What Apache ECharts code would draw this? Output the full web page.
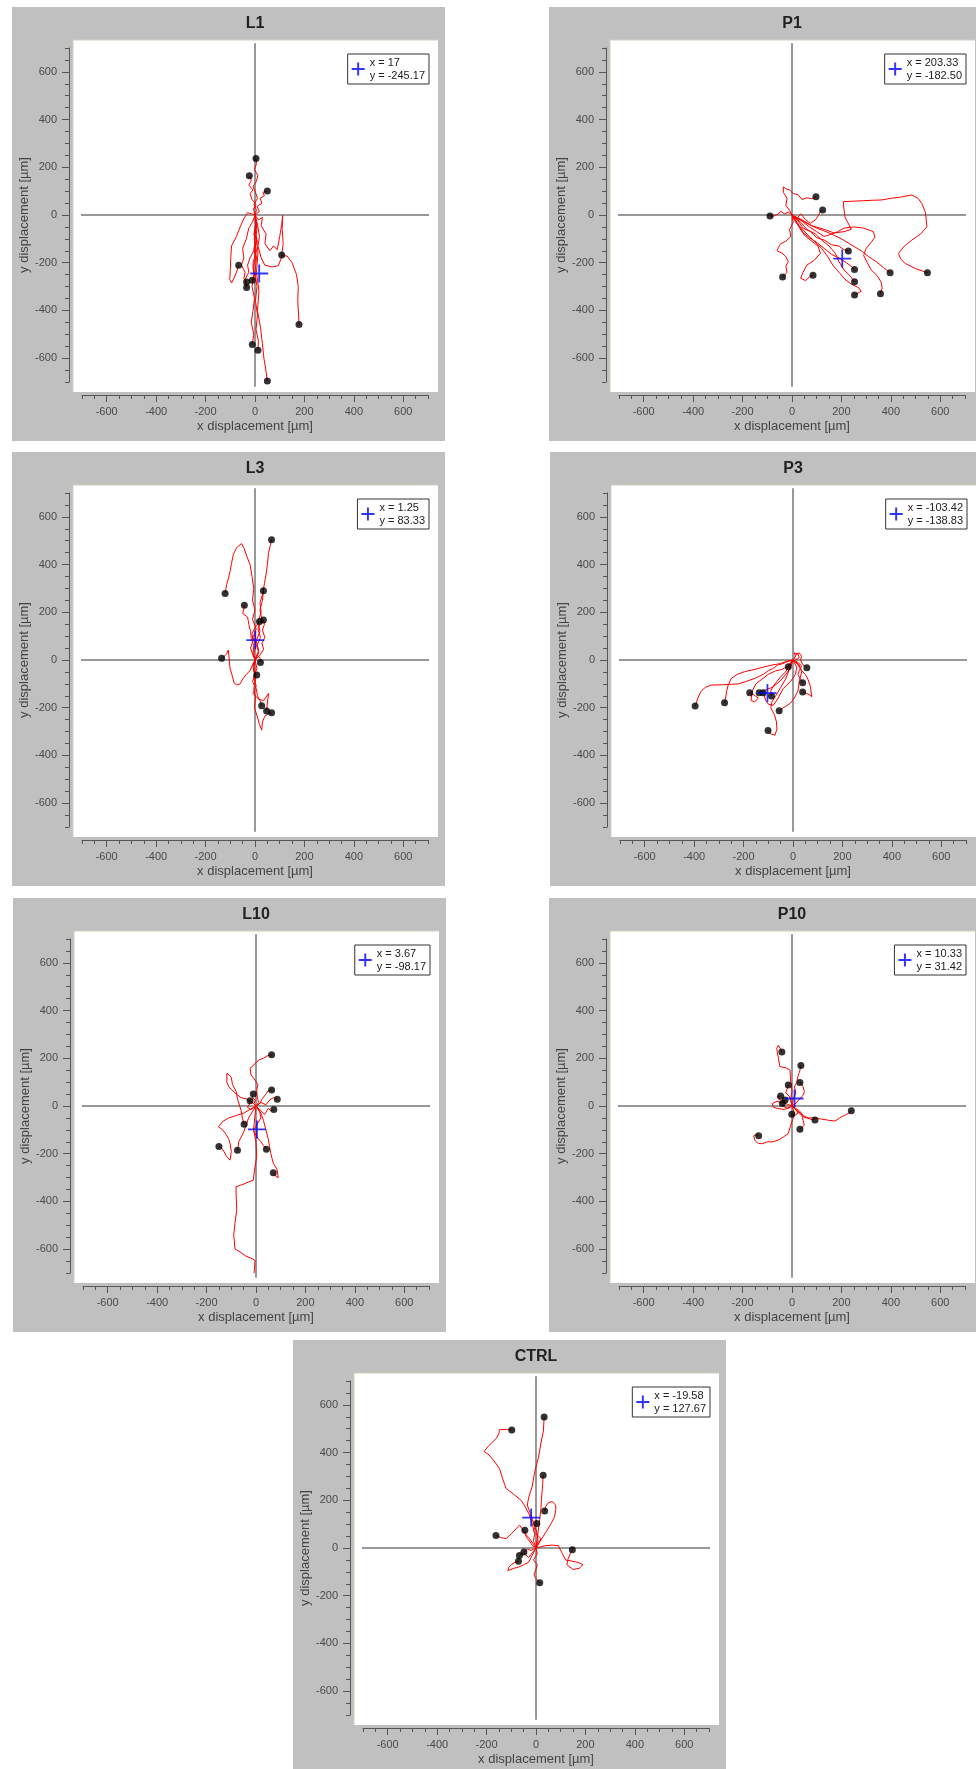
<!DOCTYPE html>
<html><head><meta charset="utf-8">
<script src="https://cdn.jsdelivr.net/npm/echarts@6/dist/echarts.min.js"></script>
<style>html,body{margin:0;padding:0;background:#fff}#chart{width:976px;height:1769px}</style>
</head><body><div id="chart"></div><script>
// ---------- data ----------
const PANEL_NAMES = ['L1','P1','L3','P3','L10','P10','CTRL'];
const CENTROID_X = ['17','203.33','1.25','-103.42','3.67','10.33','-19.58'];
const CENTROID_Y = ['-245.17','-182.50','83.33','-138.83','-98.17','31.42','127.67'];
const TICK_LABELS = [-600,-400,-200,0,200,400,600];
const AXIS_MIN = -700, AXIS_MAX = 700, MINOR_STEP = 50;
const CROSS_EXTENT = 720;
const X_NAME = 'x displacement [µm]';
const Y_NAME = 'y displacement [µm]';

const L1_TRACKS = [
 [[0,0],[6,20],[-4,45],[10,70],[2,95],[-8,120],[5,140],[12,165],[-2,190],[6,215],[4,237]],
 [[0,0],[-6,25],[4,45],[-12,65],[-20,90],[-8,105],[-25,125],[-15,145],[-23,164]],
 [[0,0],[18,15],[8,35],[28,50],[20,70],[38,80],[32,95],[50,101]],
 [[0,0],[15,-20],[30,-10],[25,-45],[45,-80],[40,-120],[60,-150],[75,-130],[90,-145],[100,-90],[108,-40],[112,-2],[110,-60],[114,-120],[108,-168]],
 [[0,0],[10,-40],[18,-90],[12,-130],[25,-180],[40,-210],[70,-218],[95,-212],[110,-170],[130,-172],[150,-200],[168,-250],[175,-300],[173,-360],[176,-410],[178,-459]],
 [[0,0],[-15,5],[-30,10],[-45,-15],[-60,-50],[-75,-90],[-95,-130],[-98,-180],[-100,-230],[-102,-270],[-95,-285],[-85,-265],[-75,-240],[-66,-211]],
 [[0,0],[-10,-30],[-25,-55],[-35,-100],[-50,-140],[-45,-180],[-55,-210],[-40,-240],[-45,-265],[-34,-281]],
 [[0,0],[8,-40],[-5,-80],[10,-110],[-5,-150],[-20,-180],[-30,-210],[-25,-240],[-40,-270],[-34,-304]],
 [[0,0],[5,-30],[-3,-70],[8,-100],[-5,-140],[3,-180],[-8,-220],[-2,-250],[-11,-273]],
 [[0,0],[5,-50],[-3,-100],[6,-150],[-8,-200],[-5,-250],[-12,-300],[-2,-350],[-8,-400],[-15,-450],[-5,-500],[-11,-543]],
 [[0,0],[8,-60],[-2,-120],[6,-180],[0,-240],[8,-300],[2,-360],[10,-420],[4,-480],[14,-530],[12,-567]],
 [[0,0],[4,-80],[12,-160],[6,-240],[16,-320],[10,-400],[22,-470],[30,-540],[36,-600],[44,-650],[50,-696]]
];
const P1_TRACKS = [
 [[0,0],[-15,12],[-30,5],[-45,15],[-60,2],[-75,-5],[-89,-4]],
 [[0,0],[5,-30],[-10,-60],[-5,-90],[-25,-110],[-45,-120],[-55,-135],[-60,-150],[-40,-160],[-25,-175],[-15,-195],[-25,-215],[-20,-240],[-38,-260]],
 [[0,0],[-10,20],[-25,40],[-20,70],[-35,95],[-35,118],[-25,110],[-10,105],[5,90],[25,85],[40,65],[60,72],[80,68],[97,76]],
 [[0,0],[20,-15],[35,5],[55,-20],[75,-35],[95,-20],[105,-5],[115,15],[124,21]],
 [[0,0],[15,-30],[35,-55],[50,-85],[80,-110],[105,-130],[115,-160],[90,-190],[60,-210],[45,-240],[35,-265],[55,-275],[70,-260],[85,-253]],
 [[0,0],[25,-25],[45,-55],[75,-70],[100,-95],[130,-105],[160,-125],[190,-130],[210,-145],[228,-151]],
 [[0,0],[20,-35],[40,-70],[70,-95],[100,-115],[130,-140],[160,-165],[190,-180],[220,-200],[240,-215],[253,-228]],
 [[0,0],[35,-30],[60,-60],[95,-80],[120,-105],[150,-130],[175,-160],[190,-195],[210,-230],[235,-255],[253,-280]],
 [[0,0],[30,-45],[60,-80],[90,-110],[120,-140],[145,-175],[165,-210],[190,-240],[215,-270],[240,-290],[270,-305],[280,-320],[253,-335]],
 [[0,0],[40,-25],[70,-50],[100,-70],[130,-90],[160,-80],[185,-70],[210,-55],[250,-50],[290,-55],[330,-70],[335,-95],[320,-115],[300,-140],[290,-170],[305,-200],[320,-230],[345,-255],[360,-280],[365,-305],[358,-330]],
 [[0,0],[50,-30],[100,-55],[150,-75],[200,-100],[240,-125],[280,-150],[310,-175],[340,-195],[370,-220],[397,-242]],
 [[0,0],[40,-20],[80,-45],[130,-60],[170,-75],[210,-70],[240,-60],[225,-30],[215,-10],[210,25],[208,56],[250,58],[290,60],[330,62],[363,63],[400,70],[440,75],[485,84],[510,70],[525,49],[540,10],[546,-49],[520,-80],[485,-105],[455,-130],[431,-161],[440,-185],[458,-203],[500,-225],[548,-242]]
];
const L3_TRACKS = [
 [[0,0],[15,40],[5,80],[20,120],[12,160],[25,200],[20,240],[32,280],[38,320],[45,360],[50,400],[55,450],[62,480],[67,504]],
 [[0,0],[-5,30],[5,60],[-8,95],[5,130],[-10,170],[0,210],[-10,250],[-5,300],[-12,350],[-20,400],[-35,440],[-45,470],[-55,488],[-63,493],[-75,470],[-88,441],[-95,405],[-101,371],[-108,340],[-115,315],[-121,279]],
 [[0,0],[15,30],[8,60],[22,95],[12,130],[28,170],[20,210],[30,250],[34,290]],
 [[0,0],[-8,25],[-5,60],[-15,90],[-18,120],[-25,150],[-30,180],[-50,195],[-45,215],[-43,230]],
 [[0,0],[20,20],[35,45],[28,70],[40,95],[30,125],[38,150],[34,168]],
 [[0,0],[-10,25],[-18,50],[-8,80],[-12,110],[0,135],[10,150],[18,161]],
 [[0,0],[-10,-20],[-20,-45],[-35,-60],[-50,-80],[-60,-100],[-74,-105],[-85,-95],[-90,-75],[-95,-55],[-101,-35],[-104,0],[-108,42],[-115,25],[-125,15],[-135,7]],
 [[0,0],[10,20],[20,8],[25,-5],[22,-11]],
 [[0,0],[-8,-20],[0,-35],[-5,-50],[7,-63]],
 [[0,0],[-8,-30],[0,-60],[-10,-90],[5,-120],[10,-150],[20,-170],[27,-192]],
 [[0,0],[8,-35],[-5,-70],[5,-110],[-8,-140],[15,-165],[35,-170],[55,-140],[50,-180],[47,-214]],
 [[0,0],[-5,-40],[3,-80],[-5,-120],[2,-160],[-2,-200],[10,-240],[18,-270],[27,-294],[30,-260],[40,-235],[55,-225],[67,-221]]
];
const P3_TRACKS = [
 [[0,0],[-20,-5],[-40,-15],[-60,-20],[-80,-35],[-100,-45],[-120,-60],[-150,-75],[-190,-90],[-220,-100],[-250,-102],[-290,-104],[-332,-105],[-355,-115],[-373,-132],[-385,-160],[-396,-193]],
 [[0,0],[-25,-5],[-50,-15],[-80,-20],[-114,-28],[-150,-38],[-196,-49],[-225,-60],[-250,-77],[-262,-105],[-269,-132],[-272,-155],[-277,-179]],
 [[0,0],[-20,-25],[-45,-40],[-70,-45],[-100,-60],[-125,-80],[-150,-100],[-165,-130],[-170,-170],[-155,-175],[-140,-160],[-160,-145],[-175,-137]],
 [[0,0],[-10,-30],[-25,-55],[-45,-80],[-65,-100],[-85,-115],[-110,-125],[-137,-137]],
 [[0,0],[15,-30],[10,-60],[-10,-90],[-40,-120],[-60,-160],[-80,-190],[-100,-185],[-110,-170],[-121,-137]],
 [[0,0],[-15,-25],[-30,-50],[-50,-70],[-65,-90],[-80,-110],[-90,-130],[-87,-151]],
 [[0,0],[25,-20],[35,-50],[25,-90],[20,-130],[5,-160],[-10,-180],[-30,-195],[-40,-200],[-56,-213]],
 [[0,0],[-15,-40],[-30,-80],[-50,-115],[-70,-150],[-85,-175],[-90,-200],[-75,-230],[-67,-259],[-65,-290],[-73,-315],[-90,-310],[-101,-295]],
 [[0,0],[10,15],[5,30],[20,25],[25,10],[10,0],[-5,-5],[-12,-15],[-19,-28]],
 [[0,0],[15,25],[25,30],[35,15],[30,0],[40,-20],[50,-25],[56,-32]],
 [[0,0],[20,-10],[35,-25],[25,-45],[20,-60],[30,-80],[39,-95]],
 [[0,0],[20,-20],[35,-45],[50,-60],[60,-80],[70,-110],[76,-154],[65,-145],[50,-138],[39,-134]]
];
const L10_TRACKS = [
 [[0,0],[10,15],[5,40],[3,67],[8,90],[-4,109],[-20,130],[-24,158],[-10,170],[-4,179],[15,195],[30,200],[45,210],[63,215]],
 [[0,0],[-8,10],[-3,25],[-15,35],[-11,50]],
 [[0,0],[15,10],[25,30],[40,50],[50,65],[63,67]],
 [[0,0],[20,15],[40,5],[55,25],[70,35],[86,28]],
 [[0,0],[-20,-15],[-35,-5],[-25,10],[-24,22]],
 [[0,0],[20,-20],[35,-35],[50,-10],[60,-20],[72,-15]],
 [[0,0],[-20,20],[-40,30],[-60,35],[-80,50],[-100,70],[-110,80],[-118,100],[-118,137],[-108,130],[-100,120],[-95,90],[-80,60],[-75,30],[-60,-20],[-55,-50],[-48,-76]],
 [[0,0],[-25,-15],[-50,-30],[-80,-40],[-110,-50],[-135,-65],[-152,-87],[-135,-100],[-120,-120],[-110,-140],[-105,-157],[-100,-190],[-105,-227],[-120,-210],[-130,-190],[-140,-175],[-150,-170]],
 [[0,0],[-15,-25],[-30,-50],[-40,-80],[-50,-110],[-60,-130],[-70,-150],[-72,-170],[-75,-185]],
 [[0,0],[15,-25],[20,-50],[5,-75],[-10,-100],[0,-125],[20,-150],[30,-165],[42,-181]],
 [[0,0],[20,-30],[30,-60],[40,-100],[50,-140],[55,-170],[60,-200],[65,-220],[70,-240],[85,-265],[90,-300],[80,-295],[70,-280]],
 [[0,0],[-5,-50],[-10,-100],[0,-150],[3,-213],[-5,-260],[-11,-311],[-45,-325],[-81,-339],[-80,-380],[-78,-437],[-85,-490],[-90,-540],[-85,-599],[-60,-615],[-40,-630],[-15,-640],[-4,-648],[-6,-680],[-8,-701]]
];
const P10_TRACKS = [
 [[0,0],[-5,30],[0,60],[-5,100],[-8,151],[-25,160],[-49,165],[-55,200],[-62,242],[-55,255],[-50,250],[-41,226]],
 [[0,0],[5,30],[15,55],[10,80],[20,100],[25,130],[30,140],[36,170]],
 [[0,0],[20,15],[30,30],[45,45],[50,60],[45,80],[40,90],[32,98]],
 [[0,0],[-5,20],[-10,40],[-25,55],[-20,70],[-15,88]],
 [[0,0],[-25,10],[-40,20],[-55,30],[-60,40],[-46,42]],
 [[0,0],[-15,-10],[-30,-5],[-40,10],[-28,25]],
 [[0,0],[-30,-15],[-60,-10],[-75,-5],[-80,10],[-60,20],[-39,11]],
 [[0,0],[15,-15],[25,-30],[10,-40],[-1,-35]],
 [[0,0],[20,-20],[40,-40],[45,-60],[50,-80],[32,-97]],
 [[0,0],[20,-20],[35,-30],[45,-45],[60,-50],[75,-55],[93,-59]],
 [[0,0],[30,-20],[45,-40],[65,-50],[90,-50],[120,-55],[150,-60],[174,-63],[190,-52],[200,-45],[215,-38],[230,-30],[240,-20]],
 [[0,0],[10,-30],[5,-50],[-5,-80],[-15,-115],[-35,-130],[-55,-143],[-80,-150],[-100,-150],[-120,-158],[-136,-157],[-150,-145],[-155,-125],[-145,-120],[-135,-125]]
];
const CTRL_TRACKS = [
 [[0,0],[8,30],[5,60],[-5,90],[-15,120],[-25,150],[-35,180],[-30,210],[-15,260],[-5,320],[10,380],[20,440],[30,490],[33,549]],
 [[0,0],[-10,30],[-5,60],[-15,100],[-27,140],[-45,175],[-60,200],[-90,225],[-121,250],[-135,290],[-148,334],[-170,365],[-190,390],[-210,405],[-190,430],[-160,460],[-150,480],[-148,496],[-120,497],[-98,495]],
 [[0,0],[5,40],[10,80],[15,120],[20,165],[22,200],[25,240],[27,270],[29,305]],
 [[0,0],[15,25],[30,50],[45,75],[60,100],[75,130],[80,160],[80,180],[65,195],[50,190],[40,175],[35,155]],
 [[0,0],[10,20],[20,40],[5,55],[-10,70],[-5,85],[3,103]],
 [[0,0],[-10,15],[-20,30],[-30,45],[-40,55],[-45,74]],
 [[0,0],[-15,10],[-20,20],[-35,40],[-45,60],[-55,80],[-67,96],[-85,75],[-100,60],[-121,39],[-135,42],[-145,45],[-162,52]],
 [[0,0],[20,5],[40,10],[65,12],[90,10],[105,-20],[120,-50],[145,-55],[170,-60],[190,-70],[175,-85],[150,-90],[125,-70],[130,-45],[140,-20],[147,-7]],
 [[0,0],[-10,-5],[-20,-10],[-35,-5],[-49,-17]],
 [[0,0],[-15,-20],[-30,-40],[-40,-30],[-50,-20],[-67,-31]],
 [[0,0],[-15,-30],[-30,-60],[-50,-70],[-70,-80],[-90,-85],[-114,-95],[-110,-80],[-100,-70],[-85,-60],[-71,-56]],
 [[0,0],[5,-25],[-10,-50],[5,-70],[0,-90],[-8,-110],[-5,-120],[5,-135],[15,-146]]
];
const TRACKS = [L1_TRACKS, P1_TRACKS, L3_TRACKS, P3_TRACKS, L10_TRACKS, P10_TRACKS, CTRL_TRACKS];

// ---------- layout (pixels) ----------
const PAGE_W = 976;
const ORIGINS = [[255,215],[792,215],[255,660],[793,660],[256,1106],[792,1106],[536,1548]];
const HALF_W = 173, HALF_H = 167;
const FONT = '"Liberation Sans", Arial, sans-serif';
const CROSS_SYMBOL = 'path://M9,0h2v9h9v2h-9v9h-2v-9h-9v-2h9z';
const CROSS_ICON = 'path://M8.5,0h3v8.5h8.5v3h-8.5v8.5h-3v-8.5h-8.5v-3h8.5z';
const AXIS_COLOR = '#555';

const grids = [], xAxes = [], yAxes = [], series = [], titles = [], legends = [], graphics = [];

function axisPair(kind, i) {
  const pos = kind === 'x' ? 'bottom' : 'left';
  const minor = {
    gridIndex: i, type: 'value', min: AXIS_MIN, max: AXIS_MAX, interval: MINOR_STEP,
    position: pos, offset: 13,
    axisLine: { show: true, onZero: false, lineStyle: { color: AXIS_COLOR, width: 1 } },
    axisTick: { show: true, length: 4, lineStyle: { color: AXIS_COLOR } },
    axisLabel: { show: false }, splitLine: { show: false }
  };
  const major = {
    gridIndex: i, type: 'value', min: AXIS_MIN, max: AXIS_MAX,
    position: pos, offset: 13,
    axisLine: { show: false, onZero: false },
    axisTick: { show: true, length: 7, customValues: TICK_LABELS, lineStyle: { color: AXIS_COLOR } },
    axisLabel: { show: true, customValues: TICK_LABELS, margin: kind === 'x' ? 11 : 12,
      fontSize: 11, color: '#4a4a4a', fontFamily: FONT },
    splitLine: { show: false },
    name: kind === 'x' ? X_NAME : Y_NAME, nameLocation: 'middle',
    nameGap: kind === 'x' ? 25 : 30,
    nameTextStyle: { fontSize: 13, color: '#444', fontFamily: FONT }
  };
  return [minor, major];
}

PANEL_NAMES.forEach((name, i) => {
  const [ox, oy] = ORIGINS[i];
  graphics.push({ type: 'rect', silent: true, z: -20,
    shape: { x: ox - 243, y: oy - 208, width: 433, height: 434 }, style: { fill: '#c0c0c0' } });
  graphics.push({ type: 'rect', silent: true, z: -19,
    shape: { x: ox - 182, y: oy - 175, width: 365, height: 352 }, style: { fill: '#ffffff' } });
  graphics.push({ type: 'line', silent: true, z: -18,
    shape: { x1: ox - 182, y1: oy - 175, x2: ox - 182, y2: oy + 177 }, style: { stroke: '#d6cfbf', lineWidth: 1 } });
  graphics.push({ type: 'line', silent: true, z: -18,
    shape: { x1: ox - 182, y1: oy - 175, x2: ox + 183, y2: oy - 175 }, style: { stroke: '#d6cfbf', lineWidth: 1 } });

  grids.push({ left: ox - HALF_W, top: oy - HALF_H, width: 2 * HALF_W, height: 2 * HALF_H,
    show: false, containLabel: false, outerBoundsMode: 'none' });
  xAxes.push(...axisPair('x', i));
  yAxes.push(...axisPair('y', i));
  const ax = { xAxisIndex: 2 * i, yAxisIndex: 2 * i };

  titles.push({ text: name, left: ox, top: oy - 199, textAlign: 'center', padding: 0,
    textStyle: { fontSize: 16, fontWeight: 'bold', color: '#222', fontFamily: FONT } });

  series.push({ type: 'line', ...ax, data: [[0, -CROSS_EXTENT], [0, CROSS_EXTENT]], clip: false,
    symbol: 'none', silent: true, z: 2, lineStyle: { color: '#333', width: 1 } });
  series.push({ type: 'line', ...ax, data: [[-CROSS_EXTENT, 0], [CROSS_EXTENT, 0]], clip: false,
    symbol: 'none', silent: true, z: 2, lineStyle: { color: '#333', width: 1 } });

  TRACKS[i].forEach(tr => {
    series.push({ type: 'line', ...ax, data: tr, symbol: 'none', silent: true, z: 3,
      lineStyle: { color: '#ff0000', width: 1 } });
  });
  series.push({ type: 'scatter', ...ax, data: TRACKS[i].map(t => t[t.length - 1]),
    symbol: 'circle', symbolSize: 7, silent: true, z: 4, itemStyle: { color: '#000' } });

  const cname = 'centroid ' + name;
  series.push({ type: 'scatter', name: cname, ...ax,
    data: [[Number(CENTROID_X[i]), Number(CENTROID_Y[i])]],
    symbol: CROSS_SYMBOL, symbolSize: 18, silent: true, z: 5, itemStyle: { color: '#0000ff' } });

  legends.push({ data: [cname], right: PAGE_W - (ox + 174), top: oy - 161, orient: 'vertical',
    icon: CROSS_ICON, itemWidth: 13, itemHeight: 13, selectedMode: false,
    formatter: () => 'x = ' + CENTROID_X[i] + '\ny = ' + CENTROID_Y[i],
    textStyle: { fontSize: 11, color: '#222', lineHeight: 13, fontFamily: FONT },
    backgroundColor: '#fff', borderColor: '#333', borderWidth: 1, borderRadius: 0,
    padding: [2, 4, 2, 4] });
});

const chart = echarts.init(document.getElementById('chart'), null, { renderer: 'canvas' });
chart.setOption({
  animation: false,
  backgroundColor: '#ffffff',
  title: titles,
  legend: legends,
  grid: grids,
  xAxis: xAxes,
  yAxis: yAxes,
  graphic: graphics,
  series: series
});
</script></body></html>
